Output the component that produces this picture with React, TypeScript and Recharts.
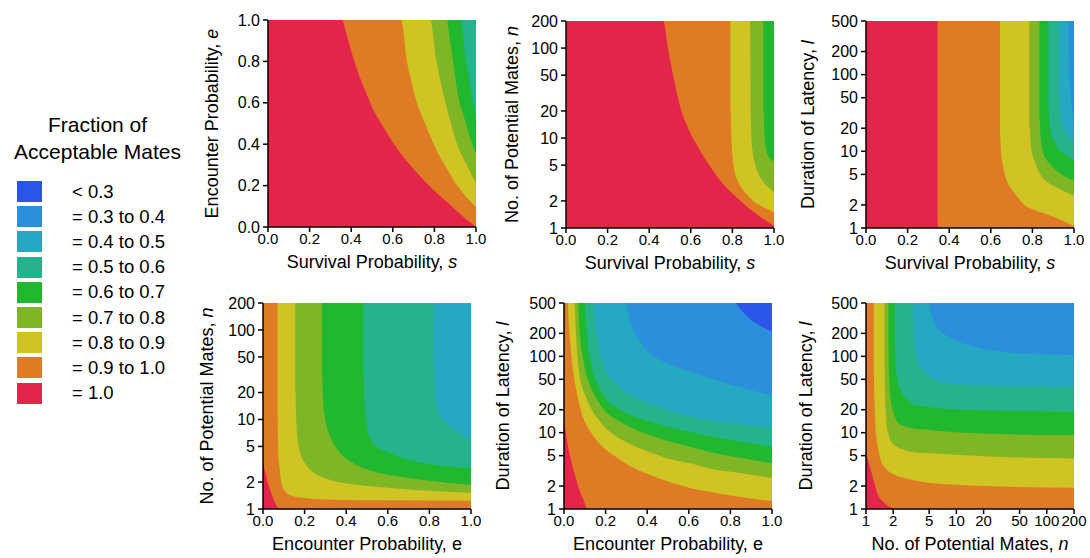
import React from 'react';
import { ComposedChart, Area, XAxis, YAxis, Label } from 'recharts';

type Pt = [number, number];

const BAND_LABELS = ['< 0.3', '= 0.3 to 0.4', '= 0.4 to 0.5', '= 0.5 to 0.6', '= 0.6 to 0.7', '= 0.7 to 0.8', '= 0.8 to 0.9', '= 0.9 to 1.0', '= 1.0'];
const BAND_COLORS = ['#2b55e8', '#2b8fdc', '#25a8c1', '#24b38a', '#21b72e', '#7fb625', '#cfc423', '#e07b25', '#e3254a'];

const PROB_TICKS = [0, 0.2, 0.4, 0.6, 0.8, 1];
const MATES_TICKS = [1, 2, 5, 10, 20, 50, 100, 200];
const LATENCY_TICKS = [1, 2, 5, 10, 20, 50, 100, 200, 500];

// each array = upper edge of the region whose fraction is >= that level
// survival s vs encounter e
const SE_50: Pt[] = [[0, 1], [1, 1]];
const SE_60: Pt[] = [[0, 1], [0.925, 1], [0.95, 0.82], [0.975, 0.66], [1, 0.52]];
const SE_70: Pt[] = [[0, 1], [0.86, 1], [0.875, 0.9], [0.89, 0.8], [0.917, 0.62], [0.94, 0.54], [0.96, 0.47], [1, 0.35]];
const SE_80: Pt[] = [[0, 1], [0.78, 1], [0.81, 0.8], [0.83, 0.7], [0.853, 0.6], [0.88, 0.5], [0.909, 0.4], [0.95, 0.31], [1, 0.21]];
const SE_90: Pt[] = [[0, 1], [0.64, 1], [0.668, 0.8], [0.69, 0.7], [0.716, 0.6], [0.755, 0.5], [0.797, 0.4], [0.82, 0.35], [0.85, 0.3], [0.909, 0.2], [0.95, 0.15], [1, 0.096]];
const SE_100: Pt[] = [[0, 1], [0.356, 1], [0.38, 0.92], [0.4, 0.85], [0.425, 0.77], [0.45, 0.7], [0.475, 0.64], [0.5, 0.58], [0.55, 0.49], [0.6, 0.41], [0.65, 0.34], [0.7, 0.28], [0.75, 0.225], [0.8, 0.175], [0.85, 0.13], [0.9, 0.085], [0.95, 0.04], [1, 0]];

// survival s vs potential mates n
const SN_60: Pt[] = [[0, 200], [1, 200]];
const SN_70: Pt[] = [[0, 200], [0.949, 200], [0.951, 20], [0.955, 10], [0.962, 7.5], [0.975, 6.2], [1, 5.5]];
const SN_80: Pt[] = [[0, 200], [0.885, 200], [0.888, 20], [0.893, 9], [0.9, 6.5], [0.91, 5], [0.925, 4], [0.95, 3.2], [0.975, 2.8], [1, 2.5]];
const SN_90: Pt[] = [[0, 200], [0.79, 200], [0.792, 20], [0.797, 8], [0.805, 5], [0.82, 3.6], [0.84, 2.9], [0.87, 2.35], [0.9, 2], [0.95, 1.7], [1, 1.5]];
const SN_100: Pt[] = [[0, 200], [0.468, 200], [0.49, 100], [0.515, 50], [0.555, 20], [0.575, 15], [0.6, 11], [0.63, 8.3], [0.66, 6.3], [0.7, 4.6], [0.74, 3.4], [0.79, 2.55], [0.85, 1.9], [0.93, 1.35], [1, 1.05]];

// survival s vs latency l
const SL_30: Pt[] = [[0, 500], [1, 500]];
const SL_40: Pt[] = [[0, 500], [0.973, 500], [0.975, 150], [0.985, 50], [1, 25]];
const SL_50: Pt[] = [[0, 500], [0.925, 500], [0.927, 60], [0.935, 30], [0.95, 20], [0.97, 16], [1, 13.1]];
const SL_60: Pt[] = [[0, 500], [0.877, 500], [0.879, 35], [0.885, 20], [0.9, 14], [0.915, 11.8], [0.933, 10.2], [0.96, 9], [1, 7.55]];
const SL_70: Pt[] = [[0, 500], [0.834, 500], [0.836, 25], [0.84, 15], [0.85, 10], [0.865, 8], [0.885, 6.8], [0.91, 5.8], [0.94, 5], [1, 4.13]];
const SL_80: Pt[] = [[0, 500], [0.786, 500], [0.788, 20], [0.793, 12], [0.8, 9], [0.81, 7.5], [0.837, 5.06], [0.87, 4], [0.917, 3.38], [0.96, 2.95], [1, 2.63]];
const SL_90: Pt[] = [[0, 500], [0.644, 500], [0.646, 15], [0.65, 9.2], [0.66, 6.2], [0.677, 4.1], [0.7, 3.2], [0.73, 2.5], [0.757, 2.04], [0.8, 1.75], [0.869, 1.51], [0.93, 1.3], [1, 1.06]];
const SL_100: Pt[] = [[0, 500], [0.344, 500], [0.346, 1]];

// encounter e vs potential mates n
const EN_40: Pt[] = [[0, 200], [1, 200]];
const EN_50: Pt[] = [[0, 200], [0.819, 200], [0.821, 40], [0.826, 22], [0.835, 14], [0.85, 11], [0.867, 9.9], [0.9, 8.3], [0.931, 7.35], [0.965, 6.5], [1, 5.9]];
const EN_60: Pt[] = [[0, 200], [0.483, 200], [0.485, 30], [0.49, 12], [0.5, 8], [0.51, 6.5], [0.525, 5.6], [0.55, 4.9], [0.611, 4.2], [0.69, 3.6], [0.771, 3.25], [0.88, 3], [1, 2.85]];
const EN_70: Pt[] = [[0, 200], [0.283, 200], [0.285, 30], [0.29, 15], [0.3, 10], [0.31, 7.8], [0.323, 6.45], [0.35, 4.9], [0.387, 3.85], [0.45, 3.1], [0.531, 2.62], [0.65, 2.3], [0.771, 2.11], [1, 1.86]];
const EN_80: Pt[] = [[0, 200], [0.155, 200], [0.157, 20], [0.16, 10], [0.165, 6.5], [0.172, 5], [0.179, 4.2], [0.2, 3.3], [0.227, 2.73], [0.27, 2.35], [0.323, 2.11], [0.42, 1.9], [0.531, 1.78], [0.75, 1.62], [1, 1.52]];
const EN_90: Pt[] = [[0, 200], [0.07, 200], [0.071, 10], [0.073, 5], [0.076, 3.5], [0.08, 2.8], [0.085, 2.2], [0.091, 1.85], [0.1, 1.65], [0.13, 1.43], [0.18, 1.34], [0.29, 1.28], [0.6, 1.25], [1, 1.24]];
const EN_100: Pt[] = [[0, 3.25], [0.01, 2.6], [0.02, 2.1], [0.03, 1.75], [0.04, 1.5], [0.05, 1.3], [0.06, 1.15], [0.075, 1]];

// encounter e vs latency l
const EL_0: Pt[] = [[0, 500], [1, 500]];
const EL_30: Pt[] = [[0, 500], [0.827, 500], [0.84, 440], [0.86, 380], [0.9, 300], [0.95, 245], [1, 211]];
const EL_40: Pt[] = [[0, 500], [0.3, 500], [0.305, 400], [0.315, 300], [0.33, 235], [0.348, 190], [0.375, 145], [0.41, 110], [0.45, 93], [0.5, 80], [0.6, 64], [0.73, 49], [0.85, 39], [1, 31]];
const EL_50: Pt[] = [[0, 500], [0.14, 500], [0.145, 350], [0.15, 250], [0.16, 165], [0.17, 120], [0.185, 85], [0.2, 65], [0.25, 44], [0.3, 33], [0.35, 28], [0.41, 24], [0.5, 19.5], [0.6, 16.5], [0.7, 14.5], [0.85, 12.8], [1, 11.4]];
const EL_60: Pt[] = [[0, 500], [0.1, 500], [0.105, 300], [0.11, 200], [0.125, 90], [0.135, 70], [0.15, 50], [0.175, 36], [0.2, 28], [0.25, 21.5], [0.3, 18], [0.41, 14], [0.5, 12], [0.6, 10.3], [0.7, 9], [0.85, 7.6], [1, 6.55]];
const EL_70: Pt[] = [[0, 500], [0.068, 500], [0.072, 300], [0.08, 150], [0.09, 100], [0.1, 70], [0.12, 45], [0.15, 30], [0.175, 23], [0.2, 19], [0.25, 15], [0.3, 12.5], [0.41, 9.3], [0.5, 7.8], [0.6, 6.6], [0.7, 5.6], [0.85, 4.7], [1, 3.97]];
const EL_80: Pt[] = [[0, 500], [0.05, 500], [0.055, 300], [0.06, 150], [0.066, 90], [0.073, 60], [0.085, 42], [0.1, 32], [0.133, 20], [0.165, 15], [0.2, 11.5], [0.25, 9], [0.3, 7.5], [0.41, 5.6], [0.5, 4.6], [0.6, 4], [0.7, 3.4], [0.85, 2.95], [1, 2.55]];
const EL_90: Pt[] = [[0, 500], [0.018, 500], [0.022, 300], [0.03, 150], [0.037, 90], [0.045, 60], [0.06, 35], [0.07, 26], [0.085, 18], [0.1, 14], [0.125, 10.5], [0.16, 7.8], [0.2, 6], [0.25, 4.8], [0.3, 3.9], [0.35, 3.3], [0.41, 2.8], [0.5, 2.3], [0.6, 1.9], [0.7, 1.68], [0.8, 1.5], [0.9, 1.37], [1, 1.27]];
const EL_100: Pt[] = [[0, 15], [0.005, 12], [0.01, 9.5], [0.02, 6.5], [0.028, 5], [0.037, 4], [0.05, 3], [0.06, 2.4], [0.069, 1.96], [0.08, 1.6], [0.09, 1.4], [0.1, 1.18], [0.109, 1]];

// potential mates n vs latency l
const NL_30: Pt[] = [[1, 500], [200, 500]];
const NL_40: Pt[] = [[1, 500], [5, 500], [5.15, 420], [5.3, 350], [5.8, 270], [6.5, 220], [8, 185], [10, 160], [14, 140], [20, 125], [30, 116], [50, 110], [100, 106], [200, 104]];
const NL_50: Pt[] = [[1, 500], [3.3, 500], [3.32, 300], [3.4, 150], [3.55, 110], [3.8, 80], [4.3, 65], [5, 55], [6.5, 46], [10, 43], [30, 41], [200, 39.8]];
const NL_60: Pt[] = [[1, 500], [2.07, 500], [2.08, 200], [2.1, 100], [2.16, 65], [2.25, 45], [2.4, 36], [2.6, 30], [2.9, 26.5], [3.2, 24], [4.5, 22], [6.5, 20.8], [12, 20], [30, 19.3], [200, 18.8]];
const NL_70: Pt[] = [[1, 500], [1.77, 500], [1.775, 150], [1.8, 60], [1.84, 35], [1.9, 25], [2, 19], [2.1, 16], [2.26, 13.5], [2.6, 12.3], [3, 11.5], [4.5, 11], [6.5, 10.5], [30, 9.6], [200, 9.3]];
const NL_80: Pt[] = [[1, 500], [1.6, 500], [1.605, 80], [1.63, 30], [1.66, 18], [1.7, 12], [1.78, 9.5], [1.9, 7.6], [2.2, 6.5], [2.6, 6], [3.18, 5.6], [6.5, 5.3], [30, 4.8], [200, 4.6]];
const NL_90: Pt[] = [[1, 500], [1.22, 500], [1.225, 60], [1.25, 20], [1.27, 13], [1.3, 9], [1.37, 6], [1.47, 4.2], [1.65, 3.4], [2.07, 2.8], [3, 2.45], [4.9, 2.2], [20, 2], [200, 1.9]];
const NL_100: Pt[] = [[1, 5.4], [1.07, 4.1], [1.15, 3], [1.25, 2.1], [1.35, 1.55], [1.45, 1.35], [1.6, 1.2], [1.8, 1.08], [2.07, 1]];

type Layer = { band: number; pts: Pt[] };
type PanelDef = {
  left: number;
  top: number;
  xTicks: number[];
  yTicks: number[];
  xLog: boolean;
  yLog: boolean;
  xTitle: [string, string, boolean];
  yTitle: [string, string];
  yTitleOff: number;
  layers: Layer[];
};

const PLOT_W = 208;
const AX_W = 80;
const AX_H = 60;
const M_TOP = 10;
const M_RIGHT = 14;

const PANELS: PanelDef[] = [
  {
    left: 268, top: 20, xTicks: PROB_TICKS, yTicks: PROB_TICKS, xLog: false, yLog: false,
    xTitle: ['Survival Probability, ', 's', true], yTitle: ['Encounter Probability, ', 'e'], yTitleOff: -56,
    layers: [{ band: 3, pts: SE_50 }, { band: 4, pts: SE_60 }, { band: 5, pts: SE_70 }, { band: 6, pts: SE_80 }, { band: 7, pts: SE_90 }, { band: 8, pts: SE_100 }],
  },
  {
    left: 566, top: 21, xTicks: PROB_TICKS, yTicks: MATES_TICKS, xLog: false, yLog: true,
    xTitle: ['Survival Probability, ', 's', true], yTitle: ['No. of Potential Mates, ', 'n'], yTitleOff: -54,
    layers: [{ band: 4, pts: SN_60 }, { band: 5, pts: SN_70 }, { band: 6, pts: SN_80 }, { band: 7, pts: SN_90 }, { band: 8, pts: SN_100 }],
  },
  {
    left: 866, top: 21, xTicks: PROB_TICKS, yTicks: LATENCY_TICKS, xLog: false, yLog: true,
    xTitle: ['Survival Probability, ', 's', true], yTitle: ['Duration of Latency, ', 'l'], yTitleOff: -58,
    layers: [{ band: 1, pts: SL_30 }, { band: 2, pts: SL_40 }, { band: 3, pts: SL_50 }, { band: 4, pts: SL_60 }, { band: 5, pts: SL_70 }, { band: 6, pts: SL_80 }, { band: 7, pts: SL_90 }, { band: 8, pts: SL_100 }],
  },
  {
    left: 263, top: 303, xTicks: PROB_TICKS, yTicks: MATES_TICKS, xLog: false, yLog: true,
    xTitle: ['Encounter Probability, ', 'e', false], yTitle: ['No. of Potential Mates, ', 'n'], yTitleOff: -56,
    layers: [{ band: 2, pts: EN_40 }, { band: 3, pts: EN_50 }, { band: 4, pts: EN_60 }, { band: 5, pts: EN_70 }, { band: 6, pts: EN_80 }, { band: 7, pts: EN_90 }, { band: 8, pts: EN_100 }],
  },
  {
    left: 564, top: 303, xTicks: PROB_TICKS, yTicks: LATENCY_TICKS, xLog: false, yLog: true,
    xTitle: ['Encounter Probability, ', 'e', false], yTitle: ['Duration of Latency, ', 'l'], yTitleOff: -61,
    layers: [{ band: 0, pts: EL_0 }, { band: 1, pts: EL_30 }, { band: 2, pts: EL_40 }, { band: 3, pts: EL_50 }, { band: 4, pts: EL_60 }, { band: 5, pts: EL_70 }, { band: 6, pts: EL_80 }, { band: 7, pts: EL_90 }, { band: 8, pts: EL_100 }],
  },
  {
    left: 866, top: 303, xTicks: MATES_TICKS, yTicks: LATENCY_TICKS, xLog: true, yLog: true,
    xTitle: ['No. of Potential Mates, ', 'n', true], yTitle: ['Duration of Latency, ', 'l'], yTitleOff: -60,
    layers: [{ band: 1, pts: NL_30 }, { band: 2, pts: NL_40 }, { band: 3, pts: NL_50 }, { band: 4, pts: NL_60 }, { band: 5, pts: NL_70 }, { band: 6, pts: NL_80 }, { band: 7, pts: NL_90 }, { band: 8, pts: NL_100 }],
  },
];

const AXIS_LINE = { stroke: '#000', strokeWidth: 1.5 };
const X_TICK = { fill: '#000', fontSize: 15 };
const Y_TICK = { fill: '#000', fontSize: 16 };

function Panel({ p }: { p: PanelDef }) {
  const plotH = p.top < 200 ? 207 : 206;
  const xDom = [p.xTicks[0], p.xTicks[p.xTicks.length - 1]];
  const yDom = [p.yTicks[0], p.yTicks[p.yTicks.length - 1]];
  const fmtX = (v: number) => (p.xLog ? String(v) : v.toFixed(1));
  const fmtY = (v: number) => (p.yLog ? String(v) : v.toFixed(1));
  const cy = M_TOP + plotH / 2;
  const cx = AX_W + p.yTitleOff;

  return (
    <div style={{ position: 'absolute', left: p.left - AX_W, top: p.top - M_TOP }}>
      <ComposedChart
        width={AX_W + PLOT_W + M_RIGHT}
        height={M_TOP + plotH + AX_H}
        margin={{ top: M_TOP, right: M_RIGHT, bottom: 0, left: 0 }}
      >
        {p.layers.map((ly, i) => (
          <Area
            key={i}
            xAxisId="b"
            yAxisId="l"
            data={ly.pts.map(([x, y]) => ({ x, y }))}
            dataKey="y"
            type="monotone"
            fill={BAND_COLORS[ly.band]}
            fillOpacity={1}
            stroke="none"
            isAnimationActive={false}
          />
        ))}
        <XAxis
          xAxisId="b"
          dataKey="x"
          type="number"
          scale={p.xLog ? 'log' : 'linear'}
          domain={xDom}
          ticks={p.xTicks}
          interval={0}
          allowDataOverflow
          height={AX_H}
          tickSize={5}
          tickMargin={1}
          tickFormatter={fmtX}
          tick={X_TICK}
          axisLine={AXIS_LINE}
          tickLine={AXIS_LINE}
        >
          <Label
            content={() => (
              <text x={AX_W + PLOT_W / 2} y={M_TOP + plotH + 41} textAnchor="middle" fontSize={18} fill="#000">
                {p.xTitle[0]}
                <tspan fontStyle={p.xTitle[2] ? 'italic' : 'normal'}>{p.xTitle[1]}</tspan>
              </text>
            )}
          />
        </XAxis>
        <YAxis
          yAxisId="l"
          type="number"
          scale={p.yLog ? 'log' : 'linear'}
          domain={yDom}
          ticks={p.yTicks}
          interval={0}
          allowDataOverflow
          width={AX_W}
          tickSize={5}
          tickMargin={3}
          tickFormatter={fmtY}
          tick={Y_TICK}
          axisLine={AXIS_LINE}
          tickLine={AXIS_LINE}
        >
          <Label
            content={() => (
              <text
                x={cx}
                y={cy}
                transform={`rotate(-90, ${cx}, ${cy})`}
                textAnchor="middle"
                dominantBaseline="central"
                fontSize={18}
                fill="#000"
              >
                {p.yTitle[0]}
                <tspan fontStyle="italic">{p.yTitle[1]}</tspan>
              </text>
            )}
          />
        </YAxis>
        <XAxis xAxisId="t" orientation="top" type="number" domain={[0, 1]} height={0} tick={false} tickLine={false} axisLine={AXIS_LINE} />
        <YAxis yAxisId="r" orientation="right" type="number" domain={[0, 1]} width={0} tick={false} tickLine={false} axisLine={AXIS_LINE} />
      </ComposedChart>
    </div>
  );
}

function ColorKey() {
  return (
    <div>
      <div style={{ position: 'absolute', left: 0, top: 111, width: 195, textAlign: 'center', fontSize: 21, lineHeight: '27px' }}>
        Fraction of
        <br />
        Acceptable Mates
      </div>
      {BAND_LABELS.map((lab, i) => {
        const cy = 191.5 + i * 25.2;
        return (
          <div key={lab}>
            <div style={{ position: 'absolute', left: 17, top: cy - 10.5, width: 25, height: 21, background: BAND_COLORS[i] }} />
            <div style={{ position: 'absolute', left: 72, top: cy - 11, fontSize: 18.5, lineHeight: '22px', whiteSpace: 'nowrap' }}>{lab}</div>
          </div>
        );
      })}
    </div>
  );
}

export default function App() {
  return (
    <div
      style={{
        position: 'absolute',
        left: 0,
        top: 0,
        width: 1090,
        height: 558,
        background: '#fff',
        fontFamily: '"Liberation Sans", Arial, sans-serif',
        color: '#000',
      }}
    >
      <ColorKey />
      {PANELS.map((p, i) => (
        <Panel key={i} p={p} />
      ))}
    </div>
  );
}
